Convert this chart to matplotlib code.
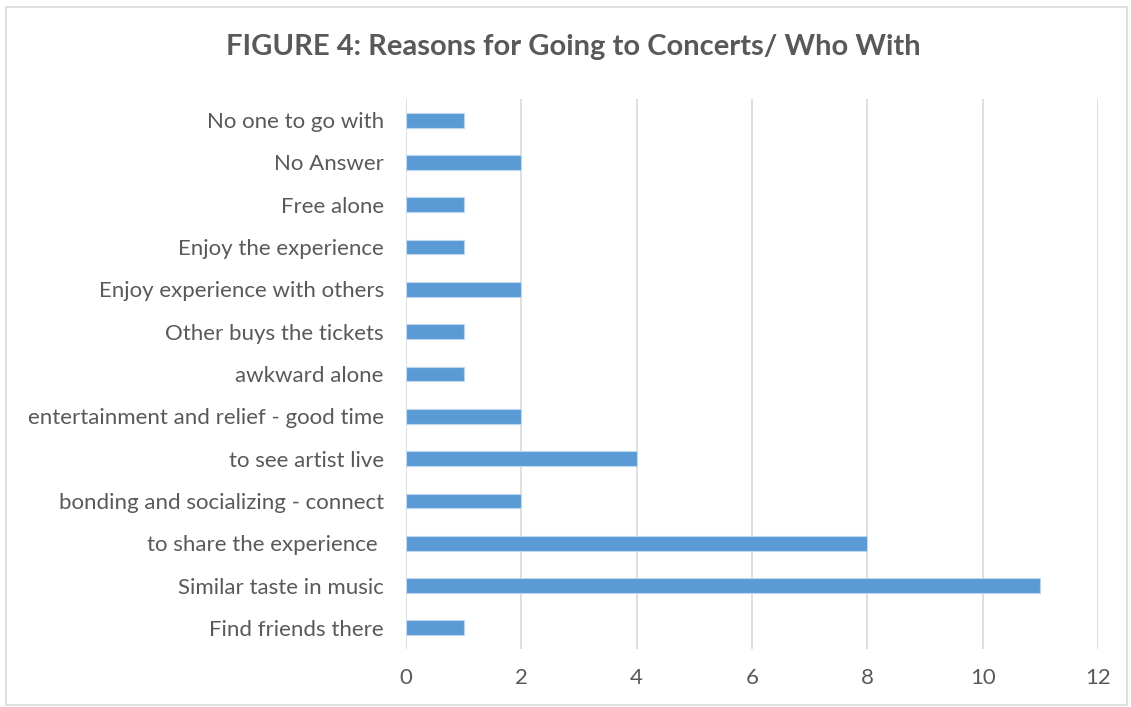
import matplotlib
matplotlib.use("Agg")
import matplotlib.pyplot as plt
from matplotlib.patches import Rectangle

plt.rcParams['font.family'] = ['Lato', 'DejaVu Sans']

categories = [
    "Find friends there",
    "Similar taste in music",
    "to share the experience ",
    "bonding and socializing - connect",
    "to see artist live",
    "entertainment and relief - good time",
    "awkward alone",
    "Other buys the tickets",
    "Enjoy experience with others",
    "Enjoy the experience",
    "Free alone",
    "No Answer",
    "No one to go with",
]
counts = [1, 11, 8, 2, 4, 2, 1, 1, 2, 1, 1, 2, 1]
x_ticks = [0, 2, 4, 6, 8, 10, 12]
title = "FIGURE 4: Reasons for Going to Concerts/ Who With"

W, H = 1131, 707
fig = plt.figure(figsize=(W / 100, H / 100), dpi=100)
fig.patch.set_facecolor("white")

# outer chart border
fig.patches.append(Rectangle((6 / W, 2 / H), (W - 10) / W, (H - 9) / H,
                             transform=fig.transFigure, fill=False,
                             edgecolor="#D9D9D9", linewidth=1.2))

left, right, top, bottom = 406, 1098, 99, 649
ax = fig.add_axes([left / W, 1 - bottom / H, (right - left) / W, (bottom - top) / H])

y = range(len(categories))
ax.barh(y, counts, height=0.35, color="#5B9BD5", edgecolor="#BDD7EE", linewidth=0.8, zorder=3)

ax.set_xlim(0, 12)
ax.set_ylim(-0.5, len(categories) - 0.5)
ax.set_xticks(x_ticks)
ax.set_xticklabels([str(t) for t in x_ticks])
ax.set_yticks(list(y))
ax.set_yticklabels(categories)

ax.grid(axis="x", color="#D9D9D9", linewidth=1.2, zorder=0)
for s in ax.spines.values():
    s.set_visible(False)
ax.tick_params(axis="both", length=0, labelsize=16, labelcolor="#595959")
ax.tick_params(axis="x", pad=14)
ax.tick_params(axis="y", pad=16)

fig.text(573 / W, 1 - 47 / H, title, ha="center", va="center",
         fontsize=21, fontweight="bold", color="#595959")

fig.savefig("out.png", dpi=100)
